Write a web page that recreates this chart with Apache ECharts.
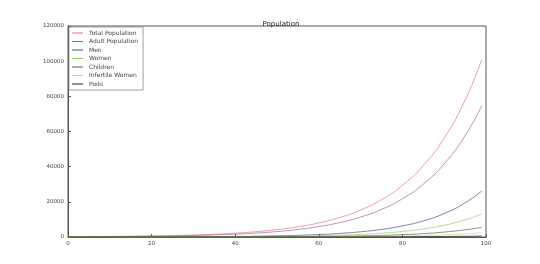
<!DOCTYPE html>
<html><head><meta charset="utf-8">
<script src="https://cdn.jsdelivr.net/npm/echarts@6/dist/echarts.min.js"></script>
<style>html,body{margin:0;padding:0;background:#fff}#c{width:540px;height:264px}</style>
</head><body><div id="c"></div>
<script>
const steps = [0,5,10,15,20,25,30,35,40,45,50,55,60,65,70,75,80,85,90,95,99];
const totalPopulation = [162,224,310,429,595,823,1139,1576,2181,3019,4178,5783,8006,11080,15335,21222,29370,40650,56260,77880,101000];
const adultPopulation = [120,165,230,318,440,610,843,1166,1614,2234,3092,4280,5924,8200,11350,15700,21730,30080,41630,57630,74700];
const men = [16,23,33,48,70,102,148,216,314,456,664,966,1406,2046,2977,4331,6301,9168,13340,19410,26200];
const women = [8,12,16,24,35,51,74,108,157,228,332,483,703,1023,1488,2165,3150,4584,6670,9705,13100];
const children = [3,5,7,10,15,21,31,45,66,96,139,203,295,430,625,909,1323,1925,2801,4076,5500];
const infertileWomen = [1,2,3,4,7,10,14,20,29,43,62,90,131,191,278,405,589,857,1248,1815,2450];
const pods = [1,1,1,2,3,4,5,7,10,14,20,28,40,56,78,110,155,215,300,420,560];
const seriesNames = ['Total Population','Adult Population','Men','Women','Children','Infertile Women','Pods'];
const seriesColors = ['#e0708c','#a0609a','#404a80','#90c870','#3f6a48','#d8d870','#202020'];
const allData = [totalPopulation,adultPopulation,men,women,children,infertileWomen,pods];

const chart = echarts.init(document.getElementById('c'));
const font = 'DejaVu Sans';
chart.setOption({
  animation:false,
  backgroundColor:'#fff',
  title:{text:'Population',left:276,top:16,textAlign:'center',textStyle:{fontFamily:font,fontSize:7,fontWeight:'normal',color:'#222'}},
  grid:{left:68,right:54,top:26,bottom:27,show:true,borderColor:'#555',borderWidth:1},
  legend:{orient:'vertical',left:69,top:27,padding:[3,5,3,3],itemGap:2.5,itemWidth:11,itemHeight:1,
    icon:'rect',backgroundColor:'#fff',borderColor:'#888',borderWidth:0.8,
    textStyle:{fontFamily:font,fontSize:6,color:'#444',padding:[0,0,0,1]},
    data:seriesNames},
  xAxis:{type:'value',min:0,max:100,interval:20,
    axisLine:{lineStyle:{color:'#555'}},axisTick:{inside:true,length:3,lineStyle:{color:'#555'}},
    splitLine:{show:false},axisLabel:{fontFamily:font,fontSize:5.5,color:'#444',margin:4}},
  yAxis:{type:'value',min:0,max:120000,interval:20000,
    axisLine:{show:true,lineStyle:{color:'#555'}},axisTick:{show:true,inside:true,length:3,lineStyle:{color:'#555'}},
    splitLine:{show:false},axisLabel:{fontFamily:font,fontSize:5.5,color:'#444',margin:4,formatter:v=>String(v)}},
  series: seriesNames.map((n,i)=>({
    name:n,type:'line',smooth:true,showSymbol:false,symbol:'none',
    color:seriesColors[i],lineStyle:{width:0.8,color:seriesColors[i],opacity:0.85},
    data: steps.map((x,j)=>[x,allData[i][j]])
  }))
});
</script></body></html>
